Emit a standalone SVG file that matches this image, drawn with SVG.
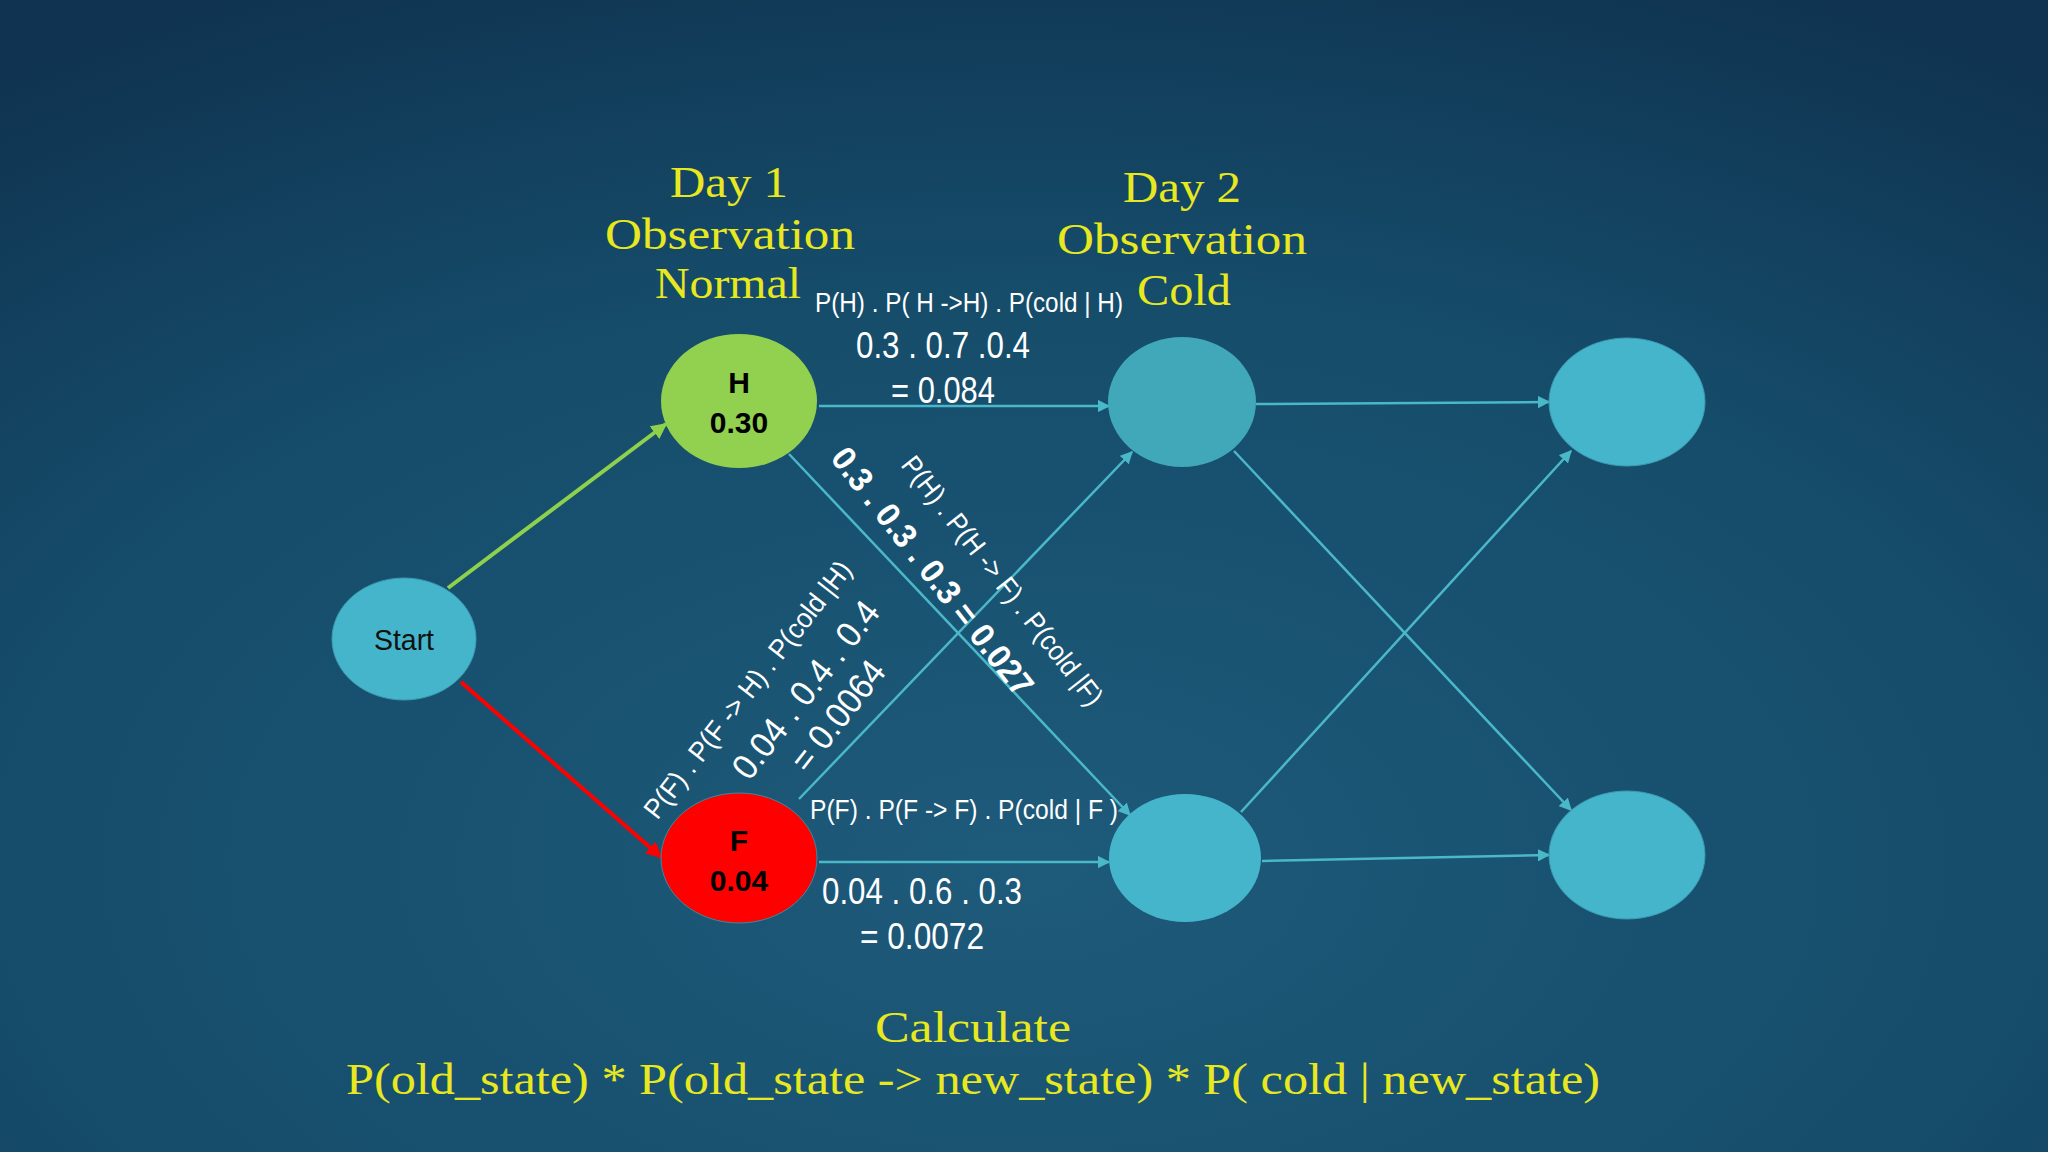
<svg xmlns="http://www.w3.org/2000/svg" width="2048" height="1152" viewBox="0 0 2048 1152">
<defs>
<radialGradient id="bg" cx="0.5" cy="0.75" r="0.85">
<stop offset="0" stop-color="#1e5a7a"/><stop offset="0.6" stop-color="#154c6a"/><stop offset="1" stop-color="#0f3350"/>
</radialGradient>
<marker id="ah" viewBox="0 0 10 10" refX="9" refY="5" markerWidth="5" markerHeight="5" orient="auto"><path d="M0,0L10,5L0,10z" fill="#4ab8c8"/></marker>
<marker id="ag" viewBox="0 0 10 10" refX="9" refY="5" markerWidth="4" markerHeight="4" orient="auto"><path d="M0,0L10,5L0,10z" fill="#8fd04c"/></marker>
<marker id="ar" viewBox="0 0 10 10" refX="9" refY="5" markerWidth="4" markerHeight="4" orient="auto"><path d="M0,0L10,5L0,10z" fill="#f00"/></marker>
<style>
.y{font-family:"Liberation Serif",serif;font-size:44px;fill:#e8e820;text-anchor:middle}
.w{font-family:"Liberation Sans",sans-serif;fill:#fff;text-anchor:middle}
.e{stroke:#4ab8c8;stroke-width:2.5;fill:none;marker-end:url(#ah)}
.n{font-family:"Liberation Sans",sans-serif;font-weight:bold;font-size:30px;text-anchor:middle;fill:#000}
</style>
</defs>
<rect width="2048" height="1152" fill="url(#bg)"/>
<g id="connectors">
<line x1="448" y1="588" x2="666" y2="424" stroke="#8fd04c" stroke-width="4" marker-end="url(#ag)"/>
<line x1="461" y1="682" x2="661" y2="857" stroke="#f00" stroke-width="4" marker-end="url(#ar)"/>
<line class="e" x1="819" y1="406" x2="1109" y2="406"/>
<line class="e" x1="789" y1="454" x2="1130" y2="815"/>
<line class="e" x1="799" y1="799" x2="1132" y2="452"/>
<line class="e" x1="819" y1="862" x2="1109" y2="862"/>
<line class="e" x1="1256" y1="404" x2="1549" y2="402"/>
<line class="e" x1="1234" y1="451" x2="1571" y2="810"/>
<line class="e" x1="1241" y1="812" x2="1571" y2="451"/>
<line class="e" x1="1262" y1="861" x2="1549" y2="855"/>
</g>
<g id="start"><ellipse cx="404" cy="639" rx="72" ry="61" fill="#45b5cc" stroke="#3a9ab0"/><text class="w" x="404" y="650" font-size="30" textLength="60" lengthAdjust="spacingAndGlyphs" style="fill:#111">Start</text></g>
<g id="H"><ellipse cx="739" cy="401" rx="78" ry="67" fill="#92d050"/><text class="n" x="739" y="393">H</text><text class="n" x="739" y="433">0.30</text></g>
<g id="F"><ellipse cx="739" cy="858" rx="78" ry="65" fill="#f00" stroke="#3a8aa0"/><text class="n" x="739" y="851">F</text><text class="n" x="739" y="891">0.04</text></g>
<g id="d2top"><ellipse cx="1182" cy="402" rx="74" ry="65" fill="#40a8b8"/></g>
<g id="d2bot"><ellipse cx="1185" cy="858" rx="76" ry="64" fill="#45b5cc"/></g>
<g id="d3top"><ellipse cx="1627" cy="402" rx="78" ry="64" fill="#45b5cc" stroke="#3a9ab0"/></g>
<g id="d3bot"><ellipse cx="1627" cy="855" rx="78" ry="64" fill="#45b5cc" stroke="#3a9ab0"/></g>
<g id="labels">
<text class="y" x="729" y="197" textLength="118" lengthAdjust="spacingAndGlyphs">Day 1</text>
<text class="y" x="730" y="249" textLength="250" lengthAdjust="spacingAndGlyphs">Observation</text>
<text class="y" x="728" y="298" textLength="146" lengthAdjust="spacingAndGlyphs">Normal</text>
<text class="y" x="1182" y="202" textLength="118" lengthAdjust="spacingAndGlyphs">Day 2</text>
<text class="y" x="1182" y="254" textLength="250" lengthAdjust="spacingAndGlyphs">Observation</text>
<text class="y" x="1184" y="305" textLength="94" lengthAdjust="spacingAndGlyphs">Cold</text>
<text class="w" x="969" y="312" font-size="27" textLength="308" lengthAdjust="spacingAndGlyphs">P(H) . P( H -&gt;H) . P(cold | H)</text>
<text class="w" x="943" y="358" font-size="36" textLength="174" lengthAdjust="spacingAndGlyphs">0.3 . 0.7 .0.4</text>
<text class="w" x="943" y="403" font-size="36" textLength="104" lengthAdjust="spacingAndGlyphs">= 0.084</text>
<text class="w" x="964" y="819" font-size="27" textLength="308" lengthAdjust="spacingAndGlyphs">P(F) . P(F -&gt; F) . P(cold | F )</text>
<text class="w" x="922" y="904" font-size="36" textLength="200" lengthAdjust="spacingAndGlyphs">0.04 . 0.6 . 0.3</text>
<text class="w" x="922" y="949" font-size="36" textLength="124" lengthAdjust="spacingAndGlyphs">= 0.0072</text>
<g transform="translate(1002,581) rotate(52)"><text class="w" x="0" y="9" font-size="28" textLength="308" lengthAdjust="spacingAndGlyphs">P(H) . P(H -&gt; F) . P(cold |F)</text></g>
<g transform="translate(932,572) rotate(52)"><text class="w" x="0" y="11" font-size="34" font-weight="bold" textLength="305" lengthAdjust="spacingAndGlyphs">0.3 . 0.3 . 0.3 = 0.027</text></g>
<g transform="translate(748,690) rotate(-52)"><text class="w" x="0" y="9" font-size="28" textLength="318" lengthAdjust="spacingAndGlyphs">P(F) . P(F -&gt; H) . P(cold |H)</text></g>
<g transform="translate(806,690) rotate(-52)"><text class="w" x="0" y="12" font-size="36" textLength="215" lengthAdjust="spacingAndGlyphs">0.04 . 0.4 .  0.4</text></g>
<g transform="translate(838,716) rotate(-52)"><text class="w" x="0" y="12" font-size="36" textLength="130" lengthAdjust="spacingAndGlyphs">= 0.0064</text></g>
<text class="y" x="973" y="1042" textLength="196" lengthAdjust="spacingAndGlyphs">Calculate</text>
<text class="y" x="973" y="1094" textLength="1254" lengthAdjust="spacingAndGlyphs">P(old_state) * P(old_state -&gt; new_state) * P( cold | new_state)</text>
</g>
</svg>
